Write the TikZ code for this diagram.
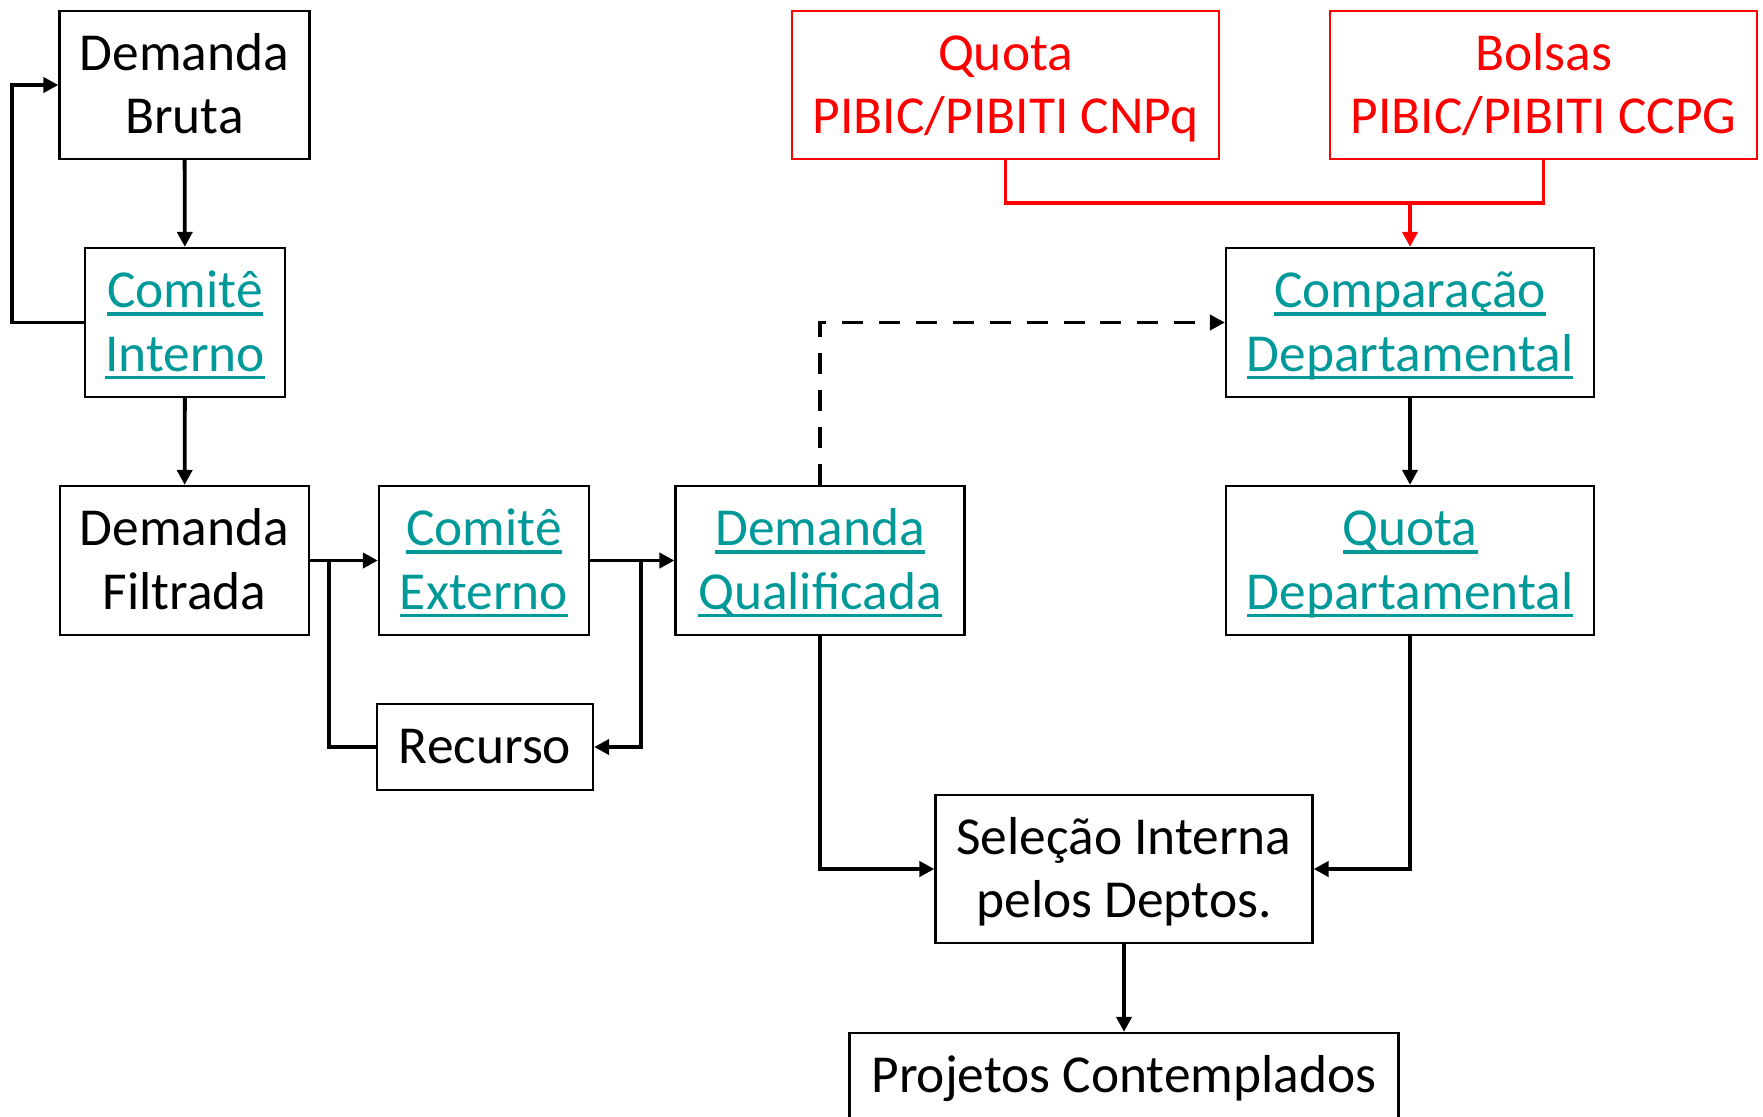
\documentclass[tikz,border=0pt]{standalone}
\usepackage{fontspec}
\setmainfont{Carlito}
\usetikzlibrary{arrows.meta}

\definecolor{lnkteal}{RGB}{0,153,153}
\definecolor{srcred}{RGB}{255,0,0}
\newcommand{\lnk}[1]{\setbox0\hbox{#1}\rlap{\rule[-0.15em]{\wd0}{0.06em}}\box0}
\newcommand{\st}{\rule[-8.5pt]{0pt}{36.3pt}}

\begin{document}
\begin{tikzpicture}[x=0.02cm, y=-0.02cm]
    \tikzstyle{every node} = [draw, line width = 1.3pt, inner sep = 0pt, align = center, font = \fontsize{30.4}{36.3}\selectfont, execute at end node = \st];
    \tikzstyle{link} = [text = lnkteal];
    \tikzstyle{src} = [draw = srcred, text = srcred, line width = 1.1pt];
    \tikzstyle{conn} = [line width = 2.2pt, -{Triangle[length = 0.3cm, width = 0.3cm]}];
    \tikzstyle{plain} = [line width = 2.2pt];
    \useasboundingbox (0,0) rectangle (1763,1116);
    \node[minimum width = 5cm, minimum height = 2.96cm] (bruta) at (184.5,85) {\st Demanda\\Bruta};
    \node[link, minimum width = 4cm, minimum height = 2.98cm] (cint) at (185,322.5) {\st\lnk{Comitê}\\\lnk{Interno}};
    \node[minimum width = 4.98cm, minimum height = 2.98cm] (filt) at (184.5,560.5) {\st Demanda\\Filtrada};
    \node[link, minimum width = 4.2cm, minimum height = 2.98cm] (cext) at (484,560.5) {\st\lnk{Comitê}\\\lnk{Externo}};
    \node[minimum width = 4.32cm, minimum height = 1.72cm] (rec) at (485,747) {\st Recurso};
    \node[link, minimum width = 5.78cm, minimum height = 2.98cm] (qual) at (820,560.5) {\st\lnk{Demanda}\\\lnk{Qualificada}};
    \node[src, minimum width = 8.54cm, minimum height = 2.96cm] (cnpq) at (1005.5,85) {\st Quota\\PIBIC/PIBITI CNPq};
    \node[src, minimum width = 8.54cm, minimum height = 2.96cm] (ccpg) at (1543.5,85) {\st Bolsas\\PIBIC/PIBITI CCPG};
    \node[link, minimum width = 7.36cm, minimum height = 2.98cm] (comp) at (1410,322.5) {\st\lnk{Comparação}\\\lnk{Departamental}};
    \node[link, minimum width = 7.36cm, minimum height = 2.98cm] (qdep) at (1410,560.5) {\st\lnk{Quota}\\\lnk{Departamental}};
    \node[minimum width = 7.54cm, minimum height = 2.96cm] (sel) at (1124,869) {\st Seleção Interna\\pelos Deptos.};
    \node[minimum width = 10.98cm, minimum height = 1.72cm] (proj) at (1124,1076) {\st Projetos Contemplados};
    \coordinate (loop) at (12,322.5);
    \coordinate (jl) at (329,560.5);
    \coordinate (jr) at (641,560.5);
    \coordinate (jred) at (1410,203);
    \draw[conn] (bruta) -- (cint);
    \draw[conn] (cint.west) -- (loop) |- (bruta.west);
    \draw[conn] (cint) -- (filt);
    \draw[conn] (filt.east) -- (cext.west);
    \draw[plain] (rec.west) -| (jl);
    \draw[conn] (cext.east) -- (qual.west);
    \draw[conn] (jr) |- (rec.east);
    \draw[conn, dash pattern = on 12pt off 9pt] (qual.north) |- (comp.west);
    \draw[plain, srcred] (cnpq.south) |- (jred) -| (ccpg.south);
    \draw[conn, srcred] (jred) -- (comp.north);
    \draw[conn] (comp) -- (qdep);
    \draw[conn] (qual.south) |- (sel.west);
    \draw[conn] (qdep.south) |- (sel.east);
    \draw[conn] (sel) -- (proj);
\end{tikzpicture}
\end{document}
